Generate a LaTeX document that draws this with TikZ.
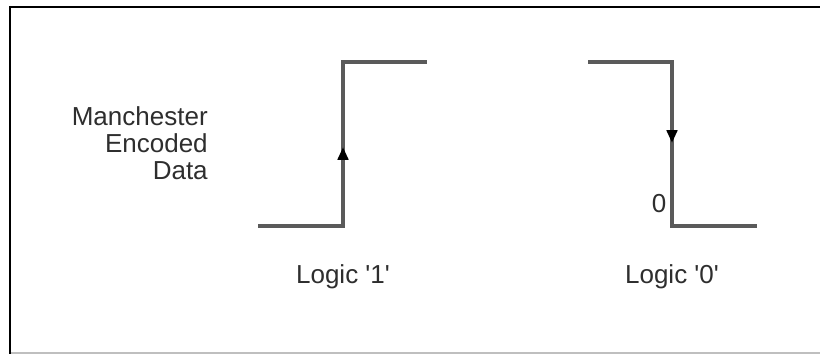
\documentclass[tikz,border=0pt]{standalone}
\usepackage{fontspec}
\setmainfont{Liberation Sans}
\usetikzlibrary{arrows.meta}
\definecolor{wavegray}{HTML}{5A5A5A}
\definecolor{textgray}{HTML}{2E2E2E}
\tikzset{
    wave/.style={line width=2.6pt, wavegray, line cap=rect},
    tip/.style={-{Triangle[length=0.32cm, width=0.26cm]}, line width=2.6pt, wavegray, arrows={[black]}},
    lbl/.style={font=\fontsize{18.5}{19.2}\selectfont, textgray, inner sep=0pt}
}
\begin{document}
\begin{tikzpicture}[x=0.025cm, y=-0.025cm]
    \useasboundingbox (0,0) rectangle (820,354);
    % frame
    \draw[line width=1.8pt, black] (9.5,7) -- (820,7);
    \draw[line width=1.8pt, black] (10,6) -- (10,354);
    \draw[line width=0.8pt, black!25] (11,353) -- (820,353);

    % logic 1: rising edge
    \coordinate (lowA) at (260,226);
    \coordinate (edgeA) at (343,226);
    \coordinate (tipA) at (343,147);
    \coordinate (topA) at (343,62);
    \coordinate (highA) at (425,62);
    \draw[wave] (lowA) -- (edgeA) -- (topA) -- (highA);
    \draw[tip] (edgeA) -- (tipA);

    % logic 0: falling edge
    \coordinate (highB) at (590,62);
    \coordinate (edgeB) at (672,62);
    \coordinate (tipB) at (672,143);
    \coordinate (botB) at (672,226);
    \coordinate (lowB) at (755,226);
    \draw[wave] (highB) -- (edgeB) -- (botB) -- (lowB);
    \draw[tip] (edgeB) -- (tipB);

    % labels
    \node[lbl, anchor=east, align=right] (title) at (208,143)
        {Manchester\\Encoded\\Data};
    \node[lbl, anchor=base] (one) at (343,283) {Logic \textquotesingle 1\textquotesingle};
    \node[lbl, anchor=base] (zero) at (672,283) {Logic \textquotesingle 0\textquotesingle};
    \node[lbl] (zerolvl) at (659,204) {0};
\end{tikzpicture}
\end{document}
